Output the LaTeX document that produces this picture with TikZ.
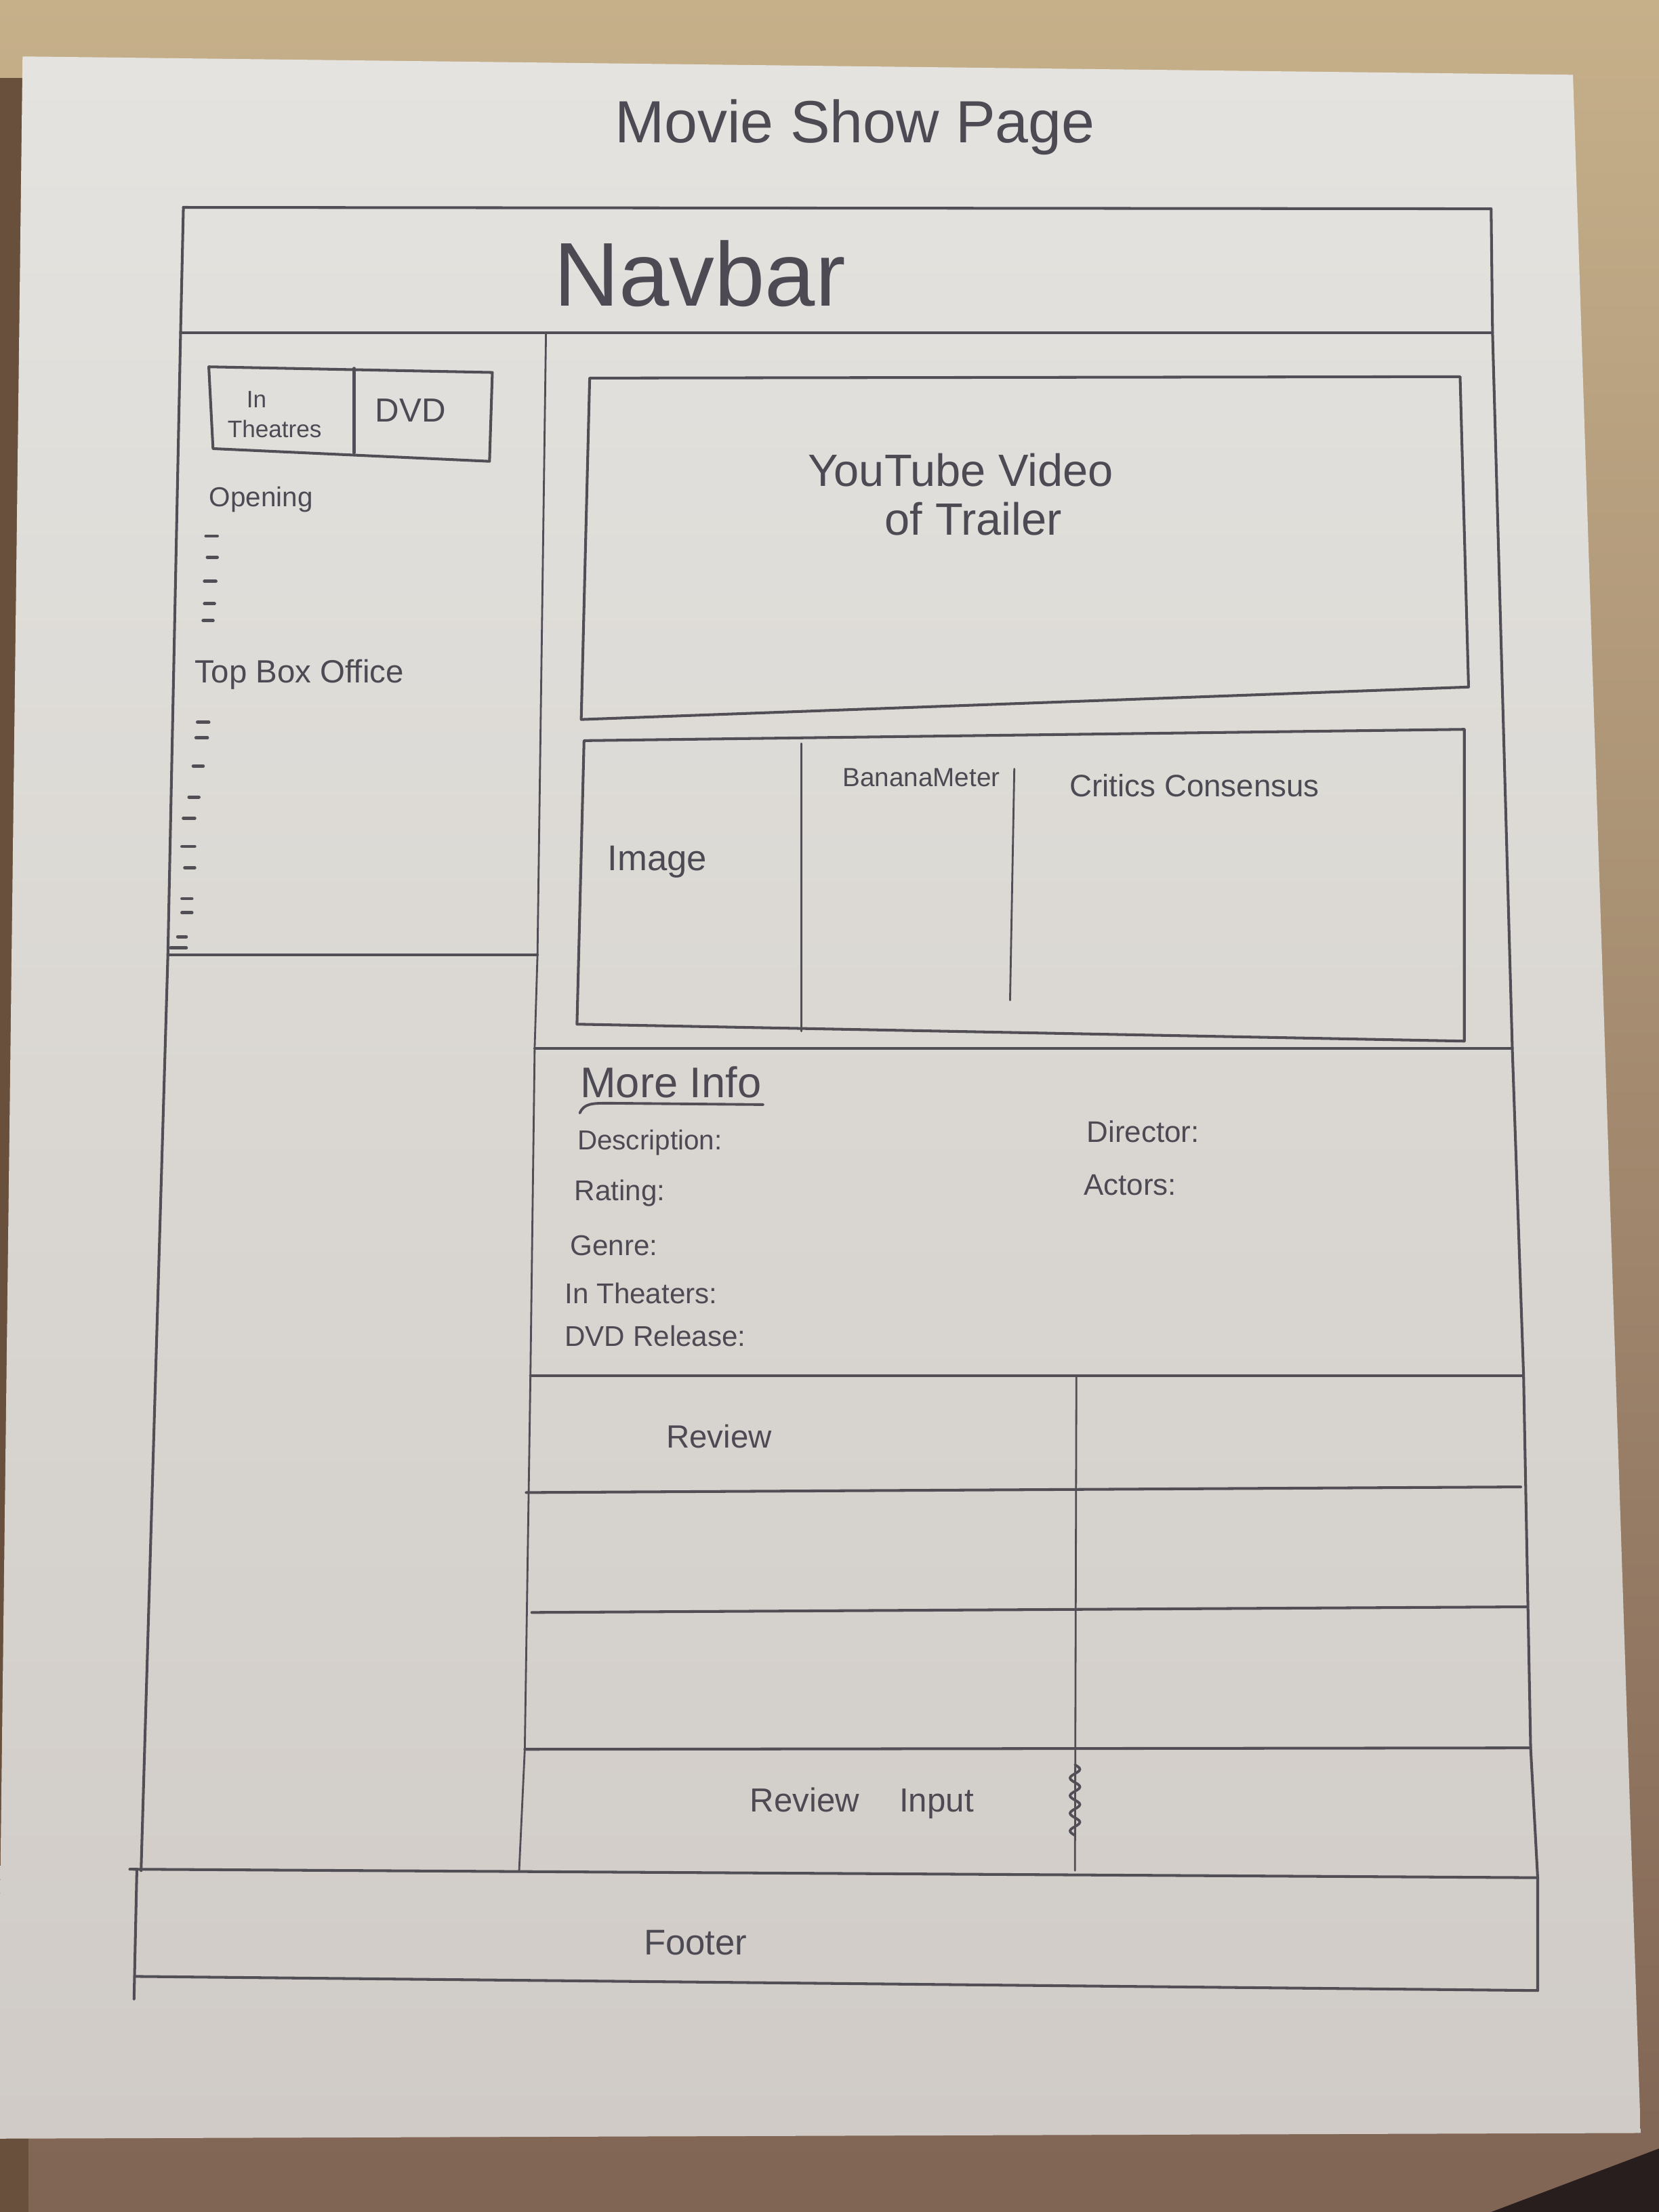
\documentclass[tikz,border=0pt]{standalone}
\usepackage{fontspec}
\setmainfont{Liberation Sans}
\definecolor{tabletop}{RGB}{198,176,138}
\definecolor{tablelow}{RGB}{128,100,84}
\definecolor{tableedge}{RGB}{105,80,60}
\definecolor{tabledark}{RGB}{40,30,30}
\definecolor{papertop}{RGB}{228,227,223}
\definecolor{paperlow}{RGB}{208,203,198}
\definecolor{pencil}{RGB}{82,78,86}
\definecolor{inktext}{RGB}{78,74,84}

\begin{document}
\begin{tikzpicture}[x=0.020816cm, y=-0.020816cm,
  heavy/.style={draw=pencil, line width=1.15pt, line cap=round, line join=round},
  light/.style={draw=pencil, line width=0.8pt, line cap=round, line join=round},
  tick/.style={draw=pencil, line width=1.4pt, line cap=round},
  hand/.style={text=inktext, inner sep=0pt, font=\fontsize{#1}{#1}\selectfont},
  hand/.default=12]

\useasboundingbox (0,0) rectangle (1176,1568);

% table top and sheet of paper
\shade[top color=tabletop, bottom color=tablelow] (0,0) rectangle (1176,1568);
\fill[tableedge] (0,55) rectangle (20,1568);
\fill[tabledark] (1176,1523) -- (1057,1568) -- (1176,1568) -- cycle;
\shade[top color=papertop, bottom color=paperlow]
  (16,40) -- (1115,53) -- (1163,1512) -- (-2,1516) -- cycle;

% key points of the page frame
\coordinate (fTL) at (130,147);
\coordinate (fTR) at (1057,148);
\coordinate (nBL) at (128,236);
\coordinate (nBR) at (1058,236);
\coordinate (lcB) at (119,677);
\coordinate (lBot) at (100,1326);
\coordinate (rA) at (1072,743);
\coordinate (rB) at (1080,975);
\coordinate (rC) at (1085,1239);
\coordinate (rD) at (1090,1331);
\coordinate (rE) at (1090,1411);
\coordinate (dTop) at (387,237);
\coordinate (dMid) at (381,677);
\coordinate (mA) at (379,743);
\coordinate (mB) at (376,975);
\coordinate (mC) at (372,1240);
\coordinate (mD) at (368,1326);

% outer frame, navbar band and column divider
\draw[heavy] (fTL) -- (fTR) -- (nBR) -- (rA) -- (rB) -- (rC) -- (rD) -- (rE);
\draw[heavy] (fTL) -- (nBL) -- (lcB) -- (lBot);
\draw[heavy] (nBL) -- (nBR);
\draw[light] (dTop) -- (dMid) -- (mA) -- (mB) -- (mC) -- (mD);
\draw[heavy] (lcB) -- (dMid);

% section rules of the main column
\draw[heavy] (mA) -- (rA);
\draw[heavy] (mB) -- (rB);
\draw[heavy] (373,1058) -- (1078,1054);
\draw[heavy] (377,1143) -- (1082,1139);
\draw[heavy] (mC) -- (rC);
\draw[light] (763,975) -- (762,1326);

% footer
\draw[heavy] (92,1325) -- (rD);
\draw[heavy] (96,1401) -- (rE);
\draw[heavy] (97,1326) -- (95,1417);

% tabs in the left column
\draw[heavy] (148,260) -- (349,264) -- (347,327) -- (151,318) -- cycle;
\draw[heavy] (251,261) -- (251,321);

% trailer box
\draw[heavy] (418,268) -- (1035,267) -- (1041,487) -- (412,510) -- cycle;

% image / meter / consensus box
\draw[heavy] (414,525) -- (1038,517) -- (1038,738) -- (409,726) -- cycle;
\draw[light] (568,527) -- (568,731);
\draw[light] (719,545) -- (716,709);

% list markers
\foreach \a/\b/\c in {146/154/380,147/154/395,145/153/412,145/152/428,144/151/440}
  \draw[tick] (\a,\c) -- (\b,\c);
\foreach \a/\b/\c in {140/148/512,139/147/523,137/144/543,134/141/565,130/138/580,
                      129/138/600,131/138/615,129/136/637,129/136/647,126/132/664,121/132/672}
  \draw[tick] (\a,\c) -- (\b,\c);

% squiggle marking the review input
\draw[light, line width=1.1pt] plot[smooth, domain=0:1, samples=49]
  ({762+3.5*sin(\x*4*360)}, {1251+50*\x});

% texts
\node[hand=25] (title) at (606,90) {Movie Show Page};
\node[hand=38] (navbar) at (496,194) {Navbar};
\node[hand=10, anchor=west, align=left, font=\fontsize{10}{12.5}\selectfont] (intheatres) at (161,294)
  {\hspace*{0.8em}In\\Theatres};
\node[hand=14] (dvd) at (291,291) {DVD};
\node[hand=11.5, anchor=west] (opening) at (148,354) {Opening};
\node[hand=13.5, anchor=west] (topbox) at (138,478) {Top Box Office};
\node[hand=19] (yt) at (681,333) {YouTube Video};
\node[hand=19] (trailer) at (690,368) {of Trailer};
\node[hand=15] (image) at (466,611) {Image};
\node[hand=11, anchor=west] (meter) at (597,551) {BananaMeter};
\node[hand=13, anchor=west] (consensus) at (758,557) {Critics Consensus};
\node[hand=18, anchor=west] (moreinfo) at (411,767) {More Info};
\draw[light, line width=1.1pt] (411,789) .. controls (414,782) and (420,782) .. (432,782) -- (541,783);
\node[hand=11.5, anchor=west] (desc) at (409,810) {Description:};
\node[hand=12, anchor=west] (rating) at (407,846) {Rating:};
\node[hand=12, anchor=west] (genre) at (404,883) {Genre:};
\node[hand=12, anchor=west] (intheaters) at (400,917) {In Theaters:};
\node[hand=12, anchor=west] (dvdrelease) at (400,947) {DVD Release:};
\node[hand=12.5, anchor=west] (director) at (770,802) {Director:};
\node[hand=12.5, anchor=west] (actors) at (768,840) {Actors:};
\node[hand=13.5, anchor=west] (review) at (472,1018) {Review};
\node[hand=14] (reviewinput) at (611,1278) {Review\hspace{1.2em}Input};
\node[hand=15] (footer) at (493,1377) {Footer};

\end{tikzpicture}
\end{document}
